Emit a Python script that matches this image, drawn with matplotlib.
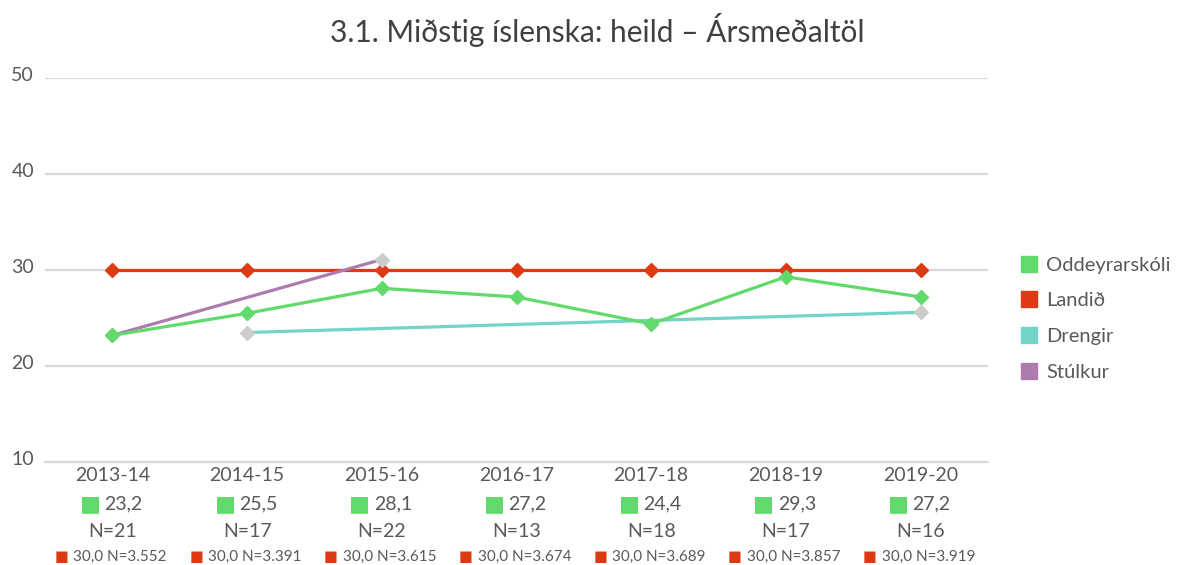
import numpy as np
import matplotlib.pyplot as plt
from matplotlib.lines import Line2D
from matplotlib.transforms import blended_transform_factory, ScaledTranslation

plt.rcParams['font.family'] = ['Lato', 'DejaVu Sans']

# Data
years = ['2013-14', '2014-15', '2015-16', '2016-17', '2017-18', '2018-19', '2019-20']
oddeyrarskoli = [23.2, 25.5, 28.1, 27.2, 24.4, 29.3, 27.2]
oddeyrarskoli_n = [21, 17, 22, 13, 18, 17, 16]
landid = [30.0, 30.0, 30.0, 30.0, 30.0, 30.0, 30.0]
landid_n = ['3.552', '3.391', '3.615', '3.674', '3.689', '3.857', '3.919']
drengir = [np.nan, 23.5, np.nan, np.nan, np.nan, np.nan, 25.6]
stulkur = [23.2, np.nan, 31.1, np.nan, np.nan, np.nan, np.nan]

green = '#62D96B'
red = '#DD3A14'
teal = '#71D4C6'
purple = '#AD7BAC'
grey = '#CCCCCC'
text_c = '#595959'

fig = plt.figure(figsize=(11.86, 5.65), dpi=100)
ax = fig.add_axes([0.038, 0.182, 0.795, 0.680])

x = np.arange(len(years))


def sparse_line(vals, color, z):
    vals = np.array(vals, dtype=float)
    ok = ~np.isnan(vals)
    ax.plot(x[ok], vals[ok], color=color, lw=2.3, zorder=z)
    ax.plot(x[ok], vals[ok], ls='none', marker='D', ms=7.5, color=grey, zorder=z)


ax.plot(x, landid, color=red, lw=2.3, marker='D', ms=7.5, zorder=3)
sparse_line(drengir, teal, 4)
sparse_line(stulkur, purple, 5)
ax.plot(x, oddeyrarskoli, color=green, lw=2.3, marker='D', ms=7.5, zorder=6)

ax.set_xlim(-0.5, len(years) - 0.5)
ax.set_ylim(10, 50)
ax.set_yticks([10, 20, 30, 40, 50])
ax.yaxis.grid(True, color='#D9D9D9', lw=1.6)
ax.set_axisbelow(True)
for s in ['top', 'right', 'left']:
    ax.spines[s].set_visible(False)
ax.spines['bottom'].set_color('#D9D9D9')
ax.spines['bottom'].set_linewidth(1.6)
ax.tick_params(axis='y', length=0, pad=8, labelsize=14, labelcolor=text_c)
ax.tick_params(axis='x', length=0, labelbottom=False)
for lab in ax.get_yticklabels():
    lab.set_transform(lab.get_transform() + ScaledTranslation(0, 0.04, fig.dpi_scale_trans))

# category table below the axis
tr = blended_transform_factory(ax.transData, ax.transAxes)
for i, yr in enumerate(years):
    ax.annotate(yr, (i, 0), xycoords=tr, xytext=(0, -13), textcoords='offset pixels',
                ha='center', va='center', fontsize=14, color=text_c)
    ax.annotate('■', (i, 0), xycoords=tr, xytext=(-22, -42), textcoords='offset pixels',
                ha='center', va='center', fontsize=16, color=green)
    ax.annotate(f'{oddeyrarskoli[i]:.1f}'.replace('.', ','), (i, 0), xycoords=tr,
                xytext=(-8, -42), textcoords='offset pixels',
                ha='left', va='center', fontsize=14, color=text_c)
    ax.annotate(f'N={oddeyrarskoli_n[i]}', (i, 0), xycoords=tr, xytext=(0, -69),
                textcoords='offset pixels', ha='center', va='center', fontsize=14, color=text_c)
    ax.annotate('■', (i, 0), xycoords=tr, xytext=(-51, -95), textcoords='offset pixels',
                ha='center', va='center', fontsize=10.5, color=red)
    ax.annotate(f'{landid[i]:.1f}'.replace('.', ',') + f' N={landid_n[i]}', (i, 0),
                xycoords=tr, xytext=(-39, -95), textcoords='offset pixels',
                ha='left', va='center', fontsize=11, color=text_c)

fig.text(0.504, 0.947, '3.1. Miðstig íslenska: heild – Ársmeðaltöl', ha='center', va='center',
         fontsize=21.5, color='#404040')

handles = [Line2D([], [], ls='none', marker='s', ms=11, color=c) for c in [green, red, teal, purple]]
fig.legend(handles, ['Oddeyrarskóli', 'Landið', 'Drengir', 'Stúlkur'],
           loc='upper left', bbox_to_anchor=(0.861, 0.546), frameon=False,
           fontsize=14.5, labelcolor=text_c, handlelength=0.8, handletextpad=0.45,
           labelspacing=0.93, borderpad=0, borderaxespad=0)

fig.savefig('out.png', dpi=100)
